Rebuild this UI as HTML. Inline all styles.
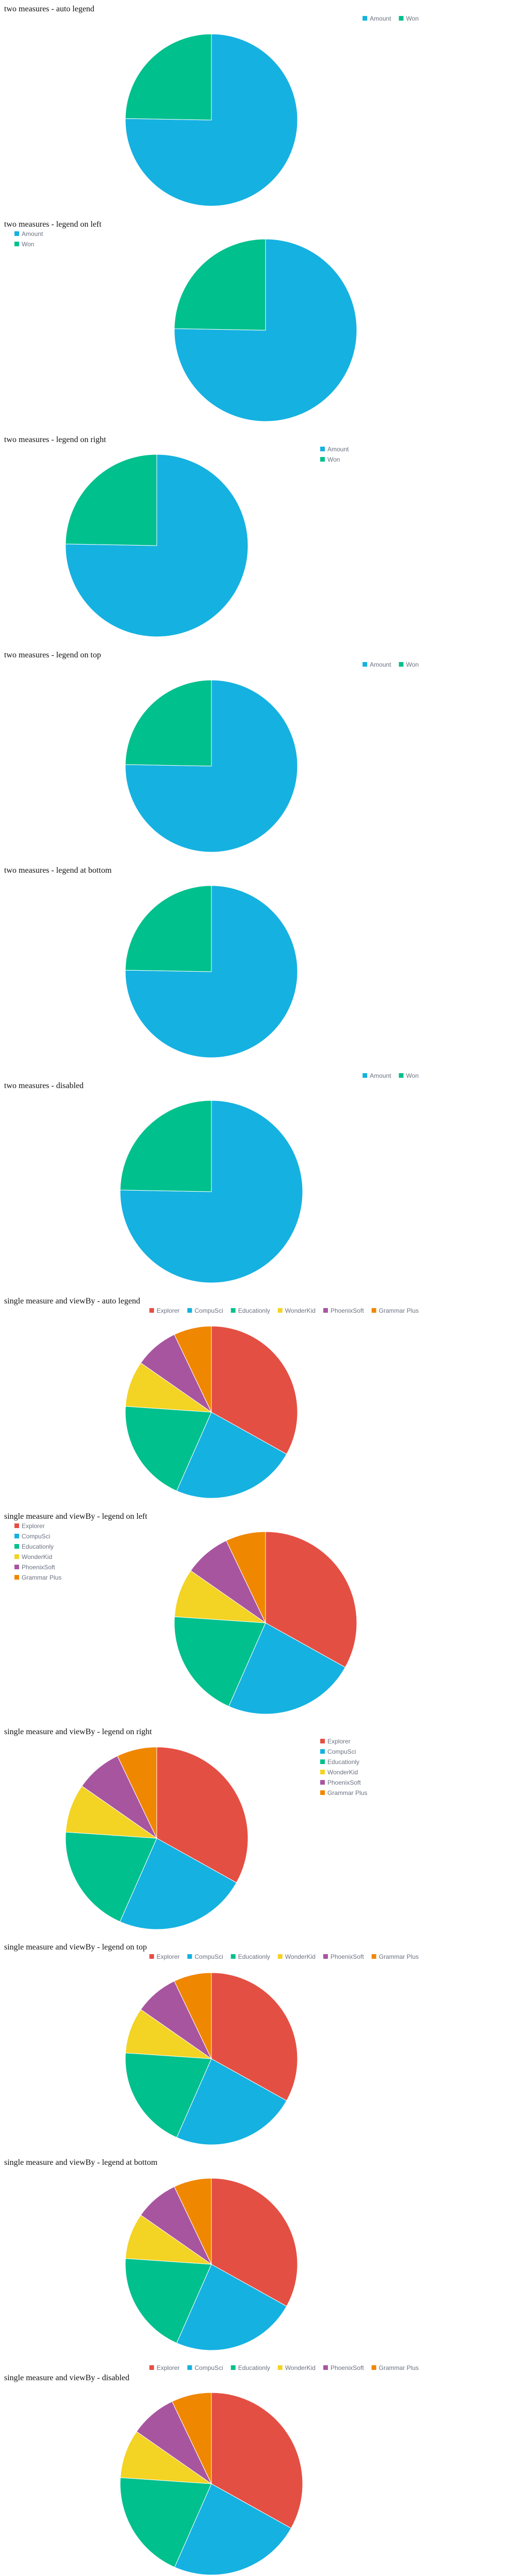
<!DOCTYPE html>
<html><head><meta charset="utf-8"><style>
html,body{margin:0;padding:0;background:#fff;width:1024px;height:5032px;overflow:hidden;}
svg{display:block;}
.title{font-family:"Liberation Serif",serif;font-size:16px;fill:#111;}
.leg{font-family:"Liberation Sans",sans-serif;font-size:12px;fill:#6b7280;}
</style></head><body>
<svg id="page" width="1024" height="5032" viewBox="0 0 1024 5032" xmlns="http://www.w3.org/2000/svg"></svg>
<script>
const measureLabels = ["Amount", "Won"];
const measureValues = [271, 89];
const measureColors = ["#15b1e1", "#00c08d"];
const viewByLabels = ["Explorer", "CompuSci", "Educationly", "WonderKid", "PhoenixSoft", "Grammar Plus"];
const viewByValues = [119, 84.5, 70, 31, 29.5, 25.5];
const viewByColors = ["#e44f43", "#15b1e1", "#00c08d", "#f3d323", "#a855a0", "#f08700"];

const NS = "http://www.w3.org/2000/svg";
const svg = document.getElementById("page");
const PERIOD = 418;
const sections = [
  {t:"two measures - auto legend", kind:"m", leg:"top", cx:410, cy:233, r:167},
  {t:"two measures - legend on left", kind:"m", leg:"left", cx:515, cy:223, r:177},
  {t:"two measures - legend on right", kind:"m", leg:"right", cx:304, cy:223, r:177},
  {t:"two measures - legend on top", kind:"m", leg:"top", cx:410, cy:233, r:167},
  {t:"two measures - legend at bottom", kind:"m", leg:"bottom", cx:410, cy:214, r:167},
  {t:"two measures - disabled", kind:"m", leg:"none", cx:410, cy:223, r:177},
  {t:"single measure and viewBy - auto legend", kind:"v", leg:"top", cx:410, cy:233, r:167},
  {t:"single measure and viewBy - legend on left", kind:"v", leg:"left", cx:515, cy:224, r:177},
  {t:"single measure and viewBy - legend on right", kind:"v", leg:"right", cx:304, cy:224, r:177},
  {t:"single measure and viewBy - legend on top", kind:"v", leg:"top", cx:410, cy:234, r:167},
  {t:"single measure and viewBy - legend at bottom", kind:"v", leg:"bottom", cx:410, cy:215, r:167},
  {t:"single measure and viewBy - disabled", kind:"v", leg:"none", cx:410, cy:223, r:177}
];

function slug(s){return s.toLowerCase().replace(/[^a-z0-9]+/g,"-").replace(/^-|-$/g,"");}

sections.forEach((s, i) => {
  const y0 = i * PERIOD;
  const g = document.createElementNS(NS, "g");
  
  
  svg.appendChild(g);

  const title = document.createElementNS(NS, "text");
  title.setAttribute("class", "title");
  title.setAttribute("x", 8);
  title.setAttribute("y", y0 + 22);
  title.textContent = s.t;
  
  
  g.appendChild(title);

  const labels = s.kind === "m" ? measureLabels : viewByLabels;
  const values = s.kind === "m" ? measureValues : viewByValues;
  const colors = s.kind === "m" ? measureColors : viewByColors;
  const total = values.reduce((a, b) => a + b, 0);
  const cx = s.cx, cy = y0 + s.cy, r = s.r;
  let acc = 0;
  values.forEach((v, k) => {
    const a0 = acc / total * 2 * Math.PI;
    acc += v;
    const a1 = acc / total * 2 * Math.PI;
    const x0 = cx + r * Math.sin(a0), yA = cy - r * Math.cos(a0);
    const x1 = cx + r * Math.sin(a1), yB = cy - r * Math.cos(a1);
    const large = (a1 - a0) > Math.PI ? 1 : 0;
    const p = document.createElementNS(NS, "path");
    p.setAttribute("d", `M${cx},${cy} L${x0},${yA} A${r},${r} 0 ${large} 1 ${x1},${yB} Z`);
    p.setAttribute("fill", colors[k]);
    p.setAttribute("stroke", "#fff");
    p.setAttribute("stroke-width", "1");
    
    
    g.appendChild(p);
  });

  if (s.leg === "none") return;
  const lg = document.createElementNS(NS, "g");
  
  
  g.appendChild(lg);
  const items = labels.map((lab, k) => {
    const it = document.createElementNS(NS, "g");
    
    
    const sq = document.createElementNS(NS, "rect");
    sq.setAttribute("width", 9); sq.setAttribute("height", 9);
    sq.setAttribute("fill", colors[k]);
    
    
    const tx = document.createElementNS(NS, "text");
    tx.setAttribute("class", "leg");
    tx.textContent = lab;
    
    
    it.appendChild(sq); it.appendChild(tx);
    lg.appendChild(it);
    return {sq, tx};
  });
  function place(it, x, yc){
    it.sq.setAttribute("x", x); it.sq.setAttribute("y", yc - 5);
    it.tx.setAttribute("x", x + 14); it.tx.setAttribute("y", yc + 4);
  }
  if (s.leg === "top" || s.leg === "bottom") {
    const yc = s.leg === "top" ? y0 + 36 : y0 + 416;
    const widths = items.map(it => 14 + it.tx.getComputedTextLength());
    const totalW = widths.reduce((a, b) => a + b, 0) + 15 * (items.length - 1);
    let x = 812 - totalW;
    items.forEach((it, k) => { place(it, x, yc); x += widths[k] + 15; });
  } else {
    const x = s.leg === "left" ? 28 : 621;
    items.forEach((it, k) => place(it, x, y0 + 36 + k * 20));
  }
});
</script>
</body></html>
